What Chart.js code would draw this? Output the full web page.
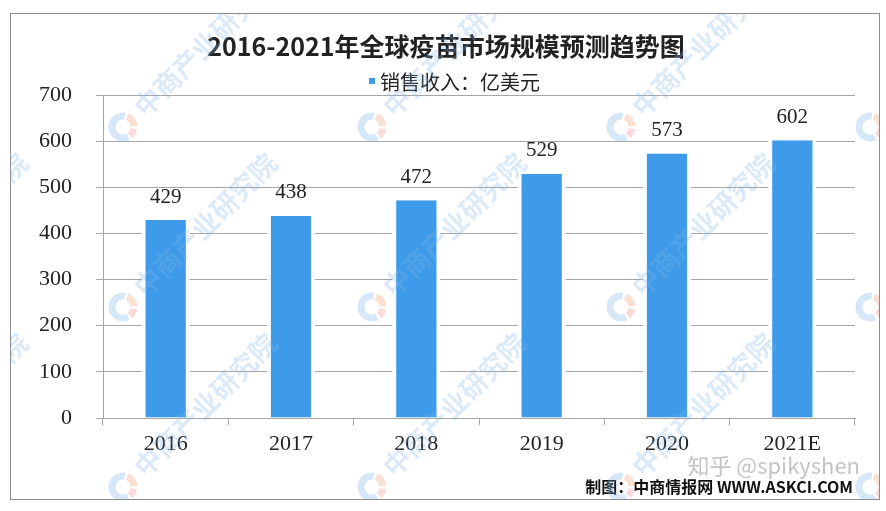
<!DOCTYPE html>
<html>
<head>
<meta charset="utf-8">
<script src="https://cdn.jsdelivr.net/npm/chart.js@4"></script>
<style>
  html, body { margin: 0; padding: 0; background: #fff; }
  #wrap { width: 886px; height: 511px; }
</style>
</head>
<body>
<div id="wrap"><canvas id="vaccineChart" width="886" height="511"></canvas></div>
<script>
// Chart data
const years = ['2016', '2017', '2018', '2019', '2020', '2021E'];
const revenue = [429, 438, 472, 529, 573, 602];
const yTicks = [0, 100, 200, 300, 400, 500, 600, 700];

const chartTitle = '2016-2021年全球疫苗市场规模预测趋势图';
const seriesName = '销售收入：亿美元';
const sourceNote = '制图：中商情报网 WWW.ASKCI.COM';
const zhihuMark = '知乎 @spikyshen';
const stampText = '中商产业研究院';

const barColor = '#3d9be9';
const gridColor = '#a6a6a6';
const textColor = '#222';
const numFont = '"Liberation Serif", "DejaVu Serif", serif';
const cjkFont = '"Noto Sans CJK SC", "Noto Sans", sans-serif';

// Faint background stamp: logo + diagonal name
const drawStamp = (ctx, x, y) => {
    ctx.save();
    ctx.translate(x, y);
    ctx.lineWidth = 7;
    ctx.strokeStyle = 'rgba(120,175,230,0.30)';
    ctx.beginPath();
    ctx.arc(0, 0, 11, Math.PI * 0.35, Math.PI * 1.55);
    ctx.stroke();
    ctx.strokeStyle = 'rgba(240,150,110,0.30)';
    ctx.beginPath();
    ctx.arc(0, 0, 11, Math.PI * 1.62, Math.PI * 1.98);
    ctx.stroke();
    ctx.strokeStyle = 'rgba(230,110,110,0.25)';
    ctx.beginPath();
    ctx.arc(0, 0, 11, Math.PI * 0.05, Math.PI * 0.28);
    ctx.stroke();
    ctx.rotate(-Math.PI / 4);
    ctx.fillStyle = 'rgba(130,180,230,0.28)';
    ctx.font = 'bold 27px ' + cjkFont;
    ctx.textAlign = 'left';
    ctx.textBaseline = 'middle';
    ctx.fillText(stampText, 22, 0);
    ctx.restore();
};

// Frame, title, legend, labels and footer
const decorPlugin = {
    id: 'decor',
    beforeDraw(chart) {
        const ctx = chart.ctx;
        ctx.save();
        ctx.fillStyle = '#fff';
        ctx.fillRect(0, 0, chart.width, chart.height);
        ctx.strokeStyle = '#8c8c8c';
        ctx.lineWidth = 1;
        ctx.strokeRect(10.5, 13.5, 869, 486);
        ctx.restore();
    },
    afterDatasetsDraw(chart) {
        const ctx = chart.ctx;
        ctx.save();

        // title
        ctx.fillStyle = textColor;
        ctx.textAlign = 'center';
        ctx.textBaseline = 'middle';
        ctx.font = 'bold 25px ' + cjkFont;
        ctx.fillText(chartTitle, 446, 46);

        // legend
        ctx.font = '20px ' + cjkFont;
        const lw = ctx.measureText(seriesName).width;
        const lx = 460 - lw / 2;
        ctx.fillStyle = barColor;
        ctx.fillRect(lx - 11, 78, 6, 6);
        ctx.fillStyle = textColor;
        ctx.textAlign = 'left';
        ctx.fillText(seriesName, lx, 82);

        // value labels
        const meta = chart.getDatasetMeta(0);
        ctx.font = '21px ' + numFont;
        ctx.textAlign = 'center';
        meta.data.forEach((bar, i) => {
            ctx.fillText(String(revenue[i]), bar.x, bar.y - 23);
        });

        // zhihu watermark
        ctx.fillStyle = 'rgba(190,190,190,0.9)';
        ctx.font = '22px ' + cjkFont;
        ctx.textAlign = 'right';
        ctx.fillText(zhihuMark, 860, 466);

        // source
        ctx.fillStyle = '#111';
        ctx.font = 'bold 16px ' + cjkFont;
        ctx.fillText(sourceNote, 853, 487);

        ctx.restore();
    },
    afterDraw(chart) {
        const ctx = chart.ctx;
        ctx.save();
        ctx.beginPath();
        ctx.rect(11, 14, 868, 485);
        ctx.clip();
        [-126, 123, 372, 621, 870].forEach(x => {
            [127, 307, 487].forEach(y => drawStamp(ctx, x, y));
        });
        ctx.restore();
    }
};

new Chart(document.getElementById('vaccineChart'), {
    type: 'bar',
    data: {
        labels: years,
        datasets: [{
            label: seriesName,
            data: revenue,
            backgroundColor: barColor,
            borderColor: '#fff',
            borderWidth: { left: 4, right: 4, top: 0, bottom: 0 },
            borderSkipped: false,
            categoryPercentage: 1,
            barPercentage: 0.385
        }]
    },
    options: {
        responsive: false,
        animation: false,
        devicePixelRatio: 1,
        layout: { padding: { left: 0, right: 31, top: 95, bottom: 0 } },
        plugins: {
            legend: { display: false },
            title: { display: false },
            tooltip: { enabled: false }
        },
        scales: {
            x: {
                offset: true,
                afterFit: (scale) => { scale.height = 93; },
                grid: {
                    offset: true,
                    drawOnChartArea: false,
                    drawTicks: true,
                    tickLength: 7,
                    color: gridColor
                },
                border: { color: gridColor, width: 1, z: 1 },
                ticks: {
                    color: textColor,
                    font: { family: numFont, size: 22 },
                    padding: 6
                }
            },
            y: {
                min: 0,
                max: 700,
                afterFit: (scale) => { scale.width = 103; },
                afterBuildTicks: (scale) => {
                    scale.ticks = yTicks.map(v => ({ value: v }));
                },
                grid: {
                    color: gridColor,
                    tickLength: 7,
                    lineWidth: 1
                },
                border: { color: gridColor, width: 1 },
                ticks: {
                    color: textColor,
                    font: { family: numFont, size: 22 },
                    padding: 24
                }
            }
        }
    },
    plugins: [decorPlugin]
});
</script>
</body>
</html>
